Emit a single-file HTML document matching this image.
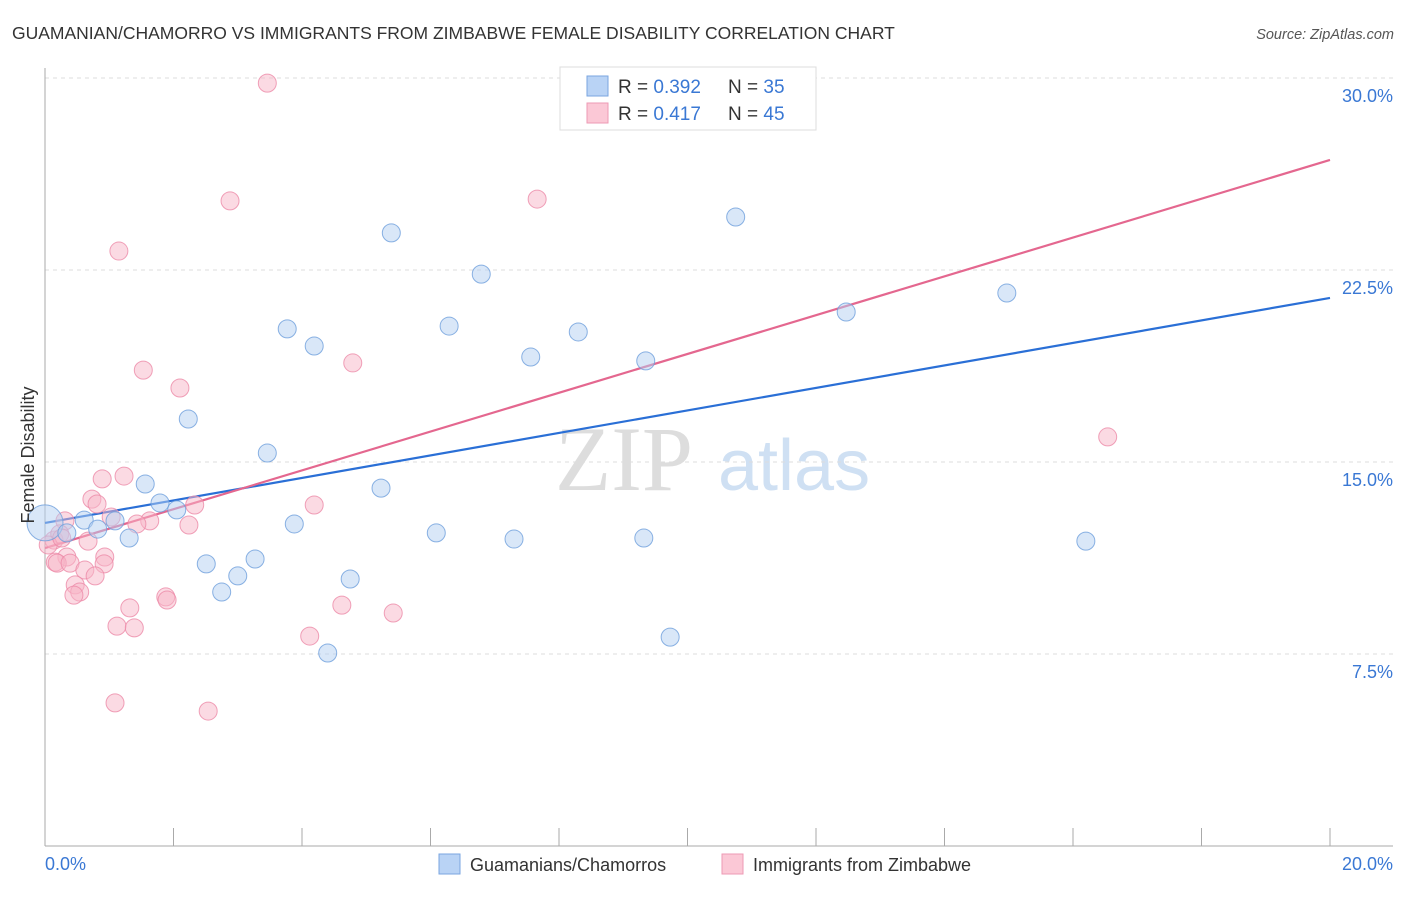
<!DOCTYPE html>
<html><head><meta charset="utf-8"><style>
body{margin:0;background:#fff;font-family:"Liberation Sans",sans-serif}
svg text{font-family:"Liberation Sans",sans-serif}
</style></head><body>
<svg id="chart" width="1406" height="892" xmlns="http://www.w3.org/2000/svg">
<text x="12" y="39" font-size="17.5" fill="#333">GUAMANIAN/CHAMORRO VS IMMIGRANTS FROM ZIMBABWE FEMALE DISABILITY CORRELATION CHART</text>
<text x="1394" y="39" font-size="14.5" fill="#555" text-anchor="end" font-style="italic">Source: ZipAtlas.com</text>
<g>
<text x="555" y="490" font-size="92" fill="#ddd" font-family="Liberation Serif" style="font-family:'Liberation Serif',serif">ZIP</text>
<text x="718" y="490" font-size="72" fill="#cfe0f3">atlas</text>
</g>
<g id="grid"></g>
<g id="axes"></g>
<g id="lines"></g>
<g id="points"></g>
<text transform="translate(34,455) rotate(-90)" font-size="18" fill="#333" text-anchor="middle">Female Disability</text>
<g>
<rect x="560" y="67" width="256" height="63" fill="#fff" stroke="#ddd"/>
<rect x="587" y="76" width="21" height="20" fill="#b9d3f5" stroke="#7aa6e0"/>
<rect x="587" y="103" width="21" height="20" fill="#fbc8d6" stroke="#ee9ab4"/>
<text x="618" y="93" font-size="19" fill="#333">R = <tspan fill="#3a78d4">0.392</tspan></text>
<text x="728" y="93" font-size="19" fill="#333">N = <tspan fill="#3a78d4"> 35</tspan></text>
<text x="618" y="120" font-size="19" fill="#333">R = <tspan fill="#3a78d4"> 0.417</tspan></text>
<text x="728" y="120" font-size="19" fill="#333">N = <tspan fill="#3a78d4">45</tspan></text>
</g>
<g>
<rect x="439" y="854" width="21" height="20" fill="#b9d3f5" stroke="#7aa6e0"/>
<text x="470" y="871" font-size="18" fill="#333">Guamanians/Chamorros</text>
<rect x="722" y="854" width="21" height="20" fill="#fbc8d6" stroke="#ee9ab4"/>
<text x="753" y="871" font-size="18" fill="#333">Immigrants from Zimbabwe</text>
</g>
</svg>
<script>
const blueX=[0.0,0.34,0.61,0.82,1.09,1.31,1.56,1.79,2.05,2.23,2.51,2.75,3.00,3.27,3.46,3.77,3.88,4.19,4.40,4.75,5.23,5.39,6.09,6.29,6.79,7.30,7.56,8.30,9.32,9.35,9.73,10.75,12.47,14.97,16.20];
const blueY=[12.62,12.23,12.73,12.38,12.70,12.03,14.14,13.40,13.13,16.68,11.02,9.92,10.55,11.21,15.35,20.20,12.58,19.53,7.54,10.43,13.98,23.95,12.23,20.31,22.34,11.99,19.10,20.08,12.03,18.95,8.16,24.57,20.86,21.60,11.91];
const pinkX=[3.46,2.88,1.15,7.66,1.53,2.10,4.79,16.54,10.44,0.89,1.23,0.73,0.81,1.03,0.31,1.63,1.43,2.24,2.33,4.19,0.14,0.23,0.67,0.34,0.93,0.16,0.19,0.39,0.92,0.62,0.78,0.47,0.54,0.45,1.88,1.90,1.32,4.62,5.42,1.12,1.39,4.12,1.09,2.54,0.05,0.26];
const pinkY=[29.80,25.20,23.24,25.27,18.59,17.89,18.87,15.98,28.63,14.34,14.45,13.55,13.36,12.85,12.70,12.70,12.58,12.54,13.32,13.32,11.95,12.19,11.91,11.29,11.29,11.09,11.05,11.05,11.02,10.78,10.55,10.20,9.92,9.80,9.73,9.61,9.30,9.41,9.10,8.59,8.52,8.20,5.59,5.27,11.76,12.03];
const blueTrend=[12.62,21.41];
const pinkTrend=[11.64,26.80];
const yTicks=[7.5,15.0,22.5,30.0];
const yTickLabels=["7.5%","15.0%","22.5%","30.0%"];
const xTickCount=10;
const NS="http://www.w3.org/2000/svg";
const sx=v=>45+v/20*1285, sy=v=>846-v/7.5*192;
function mk(t,a,p){const e=document.createElementNS(NS,t);for(const k in a)e.setAttribute(k,a[k]);p.appendChild(e);return e;}
const grid=document.getElementById('grid'),axes=document.getElementById('axes'),lines=document.getElementById('lines'),pts=document.getElementById('points');
yTicks.forEach((v,i)=>{
 const l=mk('line',{x1:45,x2:1393,y1:sy(v),y2:sy(v),stroke:'#ddd','stroke-dasharray':'4,4'},grid);
 
 
 const t=mk('text',{x:1393,y:sy(v)+24,'font-size':18,fill:'#3a78d4','text-anchor':'end'},grid);
 t.textContent=yTickLabels[i];
 
 
});
let a=mk('line',{x1:45,x2:45,y1:68,y2:846,stroke:'#aaa'},axes);


a=mk('line',{x1:45,x2:1393,y1:846,y2:846,stroke:'#aaa'},axes);


for(let i=1;i<=xTickCount;i++){const x=sx(i*20/xTickCount);const tk=mk('line',{x1:x,x2:x,y1:828,y2:846,stroke:'#aaa'},axes);
 
 }
let t=mk('text',{x:45,y:870,'font-size':18,fill:'#3a78d4'},axes);t.textContent='0.0%';


t=mk('text',{x:1393,y:870,'font-size':18,fill:'#3a78d4','text-anchor':'end'},axes);t.textContent='20.0%';


function drawPts(X,Y,fill,stroke,name){X.forEach((x,i)=>{const r=(name==='blue-point'&&i===0)?18:9;
 const c=mk('circle',{cx:sx(x),cy:sy(Y[i]),r:r,fill:fill,'fill-opacity':0.5,stroke:stroke,'stroke-opacity':0.8,'stroke-width':1},pts);
 
 });}
drawPts(pinkX,pinkY,'#f8b6c8','#ec8aa8','pink-point');
drawPts(blueX,blueY,'#b4cff2','#6e9fdc','blue-point');
let ln=mk('line',{x1:sx(0),y1:sy(blueTrend[0]),x2:sx(20),y2:sy(blueTrend[1]),stroke:'#2a6fd6','stroke-width':2.2},lines);


ln=mk('line',{x1:sx(0),y1:sy(pinkTrend[0]),x2:sx(20),y2:sy(pinkTrend[1]),stroke:'#e4678f','stroke-width':2.2},lines);


</script>
</body></html>
